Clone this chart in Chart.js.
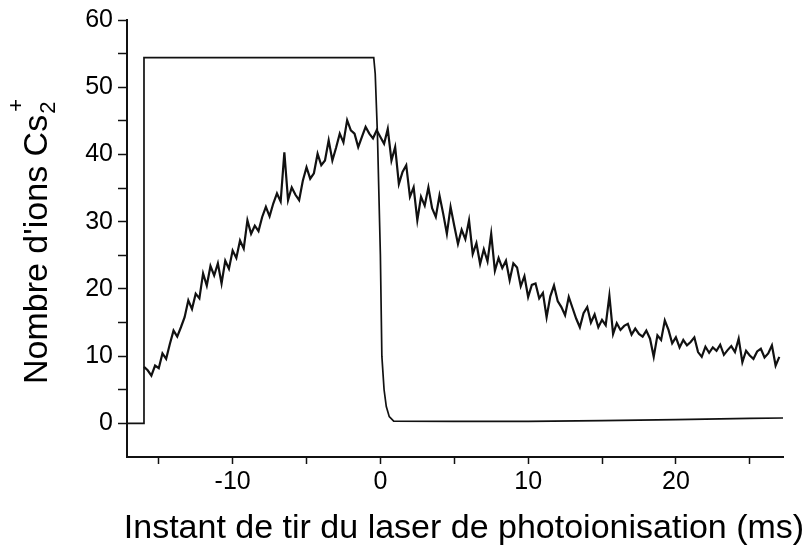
<!DOCTYPE html>
<html>
<head>
<meta charset="utf-8">
<title>Nombre d'ions Cs2+</title>
<script src="https://cdn.jsdelivr.net/npm/chart.js@4"></script>
<style>
  html, body { margin: 0; padding: 0; background: #fff; }
  #wrap { width: 812px; height: 551px; }
</style>
</head>
<body>
<div id="wrap"><canvas id="ionChart" width="812" height="551"></canvas></div>
<script>
// signal Cs2+ (ions) vs laser firing instant (ms)
const time = [
  -16, -15.75, -15.5, -15.25, -15, -14.75, -14.5, -14.25, -14, -13.75,
  -13.5, -13.25, -13, -12.75, -12.5, -12.25, -12, -11.75, -11.5, -11.25,
  -11, -10.75, -10.5, -10.25, -10, -9.75, -9.5, -9.25, -9, -8.75,
  -8.5, -8.25, -8, -7.75, -7.5, -7.25, -7, -6.75, -6.5, -6.25,
  -6, -5.75, -5.5, -5.25, -5, -4.75, -4.5, -4.25, -4, -3.75,
  -3.5, -3.25, -3, -2.75, -2.5, -2.25, -2, -1.75, -1.5, -1.25,
  -1, -0.75, -0.5, -0.25, 0, 0.25, 0.5, 0.75, 1, 1.25,
  1.5, 1.75, 2, 2.25, 2.5, 2.75, 3, 3.25, 3.5, 3.75,
  4, 4.25, 4.5, 4.75, 5, 5.25, 5.5, 5.75, 6, 6.25,
  6.5, 6.75, 7, 7.25, 7.5, 7.75, 8, 8.25, 8.5, 8.75,
  9, 9.25, 9.5, 9.75, 10, 10.25, 10.5, 10.75, 11, 11.25,
  11.5, 11.75, 12, 12.25, 12.5, 12.75, 13, 13.25, 13.5, 13.75,
  14, 14.25, 14.5, 14.75, 15, 15.25, 15.5, 15.75, 16, 16.25,
  16.5, 16.75, 17, 17.25, 17.5, 17.75, 18, 18.25, 18.5, 18.75,
  19, 19.25, 19.5, 19.75, 20, 20.25, 20.5, 20.75, 21, 21.25,
  21.5, 21.75, 22, 22.25, 22.5, 22.75, 23, 23.25, 23.5, 23.75,
  24, 24.25, 24.5, 24.75, 25, 25.25, 25.5, 25.75, 26, 26.25,
  26.5, 26.75, 27
];
const ions = [
  8.4, 7.9, 7.1, 8.6, 8.2, 10.4, 9.6, 11.8, 13.8, 12.9,
  14.3, 15.8, 18.3, 17.0, 19.3, 18.6, 22.3, 20.5, 23.4, 22.0,
  23.8, 20.8, 24.2, 23.0, 25.7, 24.6, 27.2, 26.0, 30.2, 28.2,
  29.4, 28.6, 30.7, 32.2, 30.8, 32.7, 34.2, 33.0, 40.3, 33.2,
  35.1, 34.0, 33.2, 36.1, 38.1, 36.4, 37.2, 40.1, 38.4, 39.1,
  42.1, 39.1, 41.0, 43.1, 41.8, 45.1, 43.6, 43.1, 41.1, 42.6,
  44.1, 43.1, 42.4, 43.6, 42.6, 41.6, 43.8, 39.1, 41.1, 35.6,
  37.4, 38.4, 33.7, 35.1, 30.2, 33.7, 32.4, 35.1, 32.0, 30.7,
  33.9, 31.2, 28.2, 32.2, 29.4, 26.7, 28.8, 27.4, 30.2, 25.2,
  26.8, 23.7, 25.9, 24.1, 28.2, 22.7, 24.6, 23.1, 24.2, 21.3,
  23.8, 23.2, 20.4, 21.9, 18.8, 20.6, 20.8, 18.6, 19.4, 15.8,
  18.9, 20.5, 18.2, 17.3, 16.1, 18.8, 17.2, 15.6, 14.3, 16.4,
  17.3, 15.0, 16.2, 14.3, 15.4, 14.6, 19.0, 13.3, 14.9, 13.9,
  14.5, 14.8, 13.2, 14.1, 13.3, 12.9, 13.8, 12.6, 9.9, 13.1,
  12.4, 15.3, 13.9, 11.9, 12.8, 11.3, 12.4, 11.6, 12.1, 12.8,
  10.6, 9.9, 11.4, 10.5, 11.3, 10.8, 11.7, 10.2, 10.9, 11.5,
  10.6, 12.6, 9.1, 10.8, 10.1, 9.6, 10.7, 11.1, 9.8, 10.4,
  11.6, 8.6, 9.9
];

// gate / reference pulse
const stepTime = [-17.15, -16.05, -16.0, -0.45, -0.35, -0.2, 0.0, 0.1, 0.25, 0.4, 0.6, 0.9, 5, 10, 15, 20, 25, 27.25];
const stepIons = [0, 0, 54.4, 54.4, 52, 43, 25, 10, 5, 2.5, 1.0, 0.35, 0.3, 0.3, 0.4, 0.55, 0.75, 0.8];

const xTicks = [-15, -10, -5, 0, 5, 10, 15, 20, 25];
const yTicks = [0, 5, 10, 15, 20, 25, 30, 35, 40, 45, 50, 55, 60];

const xTitle = 'Instant de tir du laser de photoionisation (ms)';
const yTitle = "Nombre d'ions Cs";

const FONT = "'Liberation Sans', Arial, Helvetica, sans-serif";

function toPoints(xs, ys) {
    return xs.map(function(x, i) { return { x: x, y: ys[i] }; });
}

// axis titles (with the sub/superscript on Cs2+)
const titlesPlugin = {
    id: 'titles',
    afterDraw: function(chart) {
        const c = chart.ctx;
        c.save();
        c.fillStyle = '#000';
        c.font = '34px ' + FONT;
        c.textAlign = 'center';
        c.textBaseline = 'alphabetic';
        c.fillText(xTitle, 464, 538);

        c.translate(47, 384);
        c.rotate(-Math.PI / 2);
        c.textAlign = 'left';
        c.fillText(yTitle, 0, 0);
        const w = c.measureText(yTitle).width;
        c.font = '22px ' + FONT;
        c.fillText('2', w + 1, 8);
        c.textBaseline = 'middle';
        c.fillText('+', w + 3, -30);
        c.restore();
    }
};

const ctx = document.getElementById('ionChart');

var chartData = {
    datasets: [{
        label: 'ions',
        data: toPoints(time, ions),
        borderColor: '#111',
        borderWidth: 2.2,
        pointRadius: 0,
        fill: false,
        tension: 0
    }, {
        label: 'pulse',
        data: toPoints(stepTime, stepIons),
        borderColor: '#111',
        borderWidth: 1.7,
        pointRadius: 0,
        fill: false,
        tension: 0
    }]
};

var chartOptions = {
    responsive: false,
    animation: false,
    devicePixelRatio: 1,
    layout: {
        padding: { top: 20, right: 29, left: 0, bottom: 0 }
    },
    plugins: {
        legend: { display: false },
        tooltip: { enabled: false }
    },
    scales: {
        x: {
            type: 'linear',
            min: -17.15,
            max: 27.25,
            afterBuildTicks: function(scale) {
                scale.ticks = xTicks.map(function(v) { return { value: v }; });
            },
            afterFit: function(scale) {
                scale.height = 94;
            },
            border: { display: true, color: '#111', width: 2 },
            grid: {
                drawOnChartArea: false,
                drawTicks: true,
                tickLength: 7,
                tickWidth: 1.5,
                tickColor: '#111'
            },
            ticks: {
                autoSkip: false,
                maxRotation: 0,
                color: '#000',
                padding: 3,
                font: { family: FONT, size: 25 },
                callback: function(v) { return v % 10 === 0 ? String(v) : ''; }
            }
        },
        y: {
            type: 'linear',
            min: -5,
            max: 60,
            afterBuildTicks: function(scale) {
                scale.ticks = yTicks.map(function(v) { return { value: v }; });
            },
            afterFit: function(scale) {
                scale.width = 127;
            },
            border: { display: true, color: '#111', width: 2 },
            grid: {
                drawOnChartArea: false,
                drawTicks: true,
                tickLength: 9,
                tickWidth: 1.5,
                tickColor: '#111'
            },
            ticks: {
                autoSkip: false,
                color: '#000',
                padding: 5,
                font: { family: FONT, size: 25 },
                callback: function(v) { return v % 10 === 0 ? String(v) : ''; }
            }
        }
    }
};

var ionChart = new Chart(ctx, {
    type: 'line',
    data: chartData,
    options: chartOptions,
    plugins: [titlesPlugin]
});
</script>
</body>
</html>
